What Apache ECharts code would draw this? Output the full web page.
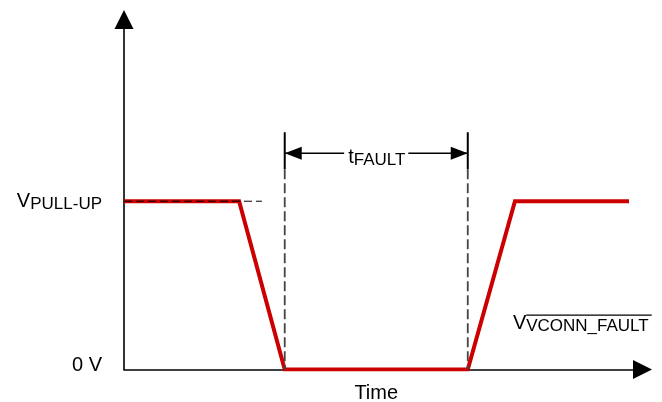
<!DOCTYPE html>
<html><head><meta charset="utf-8">
<script src="https://cdn.jsdelivr.net/npm/echarts@6/dist/echarts.min.js"></script>
<style>html,body{margin:0;padding:0;background:#fff}#c{width:662px;height:402px}</style>
</head><body><div id="c"></div>
<script>
const FONT = 'Arial, "Liberation Sans", sans-serif';
// Signal V(VCONN_FAULT) versus time (normalized units)
const signalTime  = [0, 22.2, 31.0, 66.3, 75.4, 97.4];
const signalLevel = [1, 1, 0, 0, 1, 1];
// Y tick values and their labels
const yTickValues = [0, 1];
const yTickLabels = ['0 V', 'V_PULL-UP'];
// Fault window (start, end) and its label
const faultWindow = [31.0, 66.3];
const faultLabel = ['t', 'FAULT'];
// Marker levels (data units): solid marker top / bottom, arrow level
const markerLevels = [1.41, 1.19];
const arrowLevel = [1.285];
// Dashed extension of the pull-up level (time end)
const pullUpRefEnd = [26.6];
// Signal name and its anchor (time, level)
const signalName = ['V', 'VCONN_FAULT'];
const signalNamePos = [75.0, 0.276];
const xRange = [0, 100];
const yRange = [0, 2.08];
const xName = 'Time';

const MAIN = 20, SUB = 17;
const mctx = document.createElement('canvas').getContext('2d');
function tw(t, size) { mctx.font = size + 'px ' + FONT; return mctx.measureText(t).width; }

const chart = echarts.init(document.getElementById('c'), null, {renderer: 'canvas'});

const signalData = signalTime.map((t, i) => [t, signalLevel[i]]);

const option = {
  animation: false,
  backgroundColor: '#fff',
  grid: {left: 124, right: 19.5, top: 19.5, bottom: 32.5, containLabel: false, outerBoundsMode: 'none'},
  xAxis: {
    type: 'value', min: xRange[0], max: xRange[1],
    name: xName, nameLocation: 'middle', nameGap: 14,
    nameTextStyle: {fontFamily: FONT, fontSize: MAIN, color: '#000', padding: [0, 14, 0, 0]},
    axisLine: {show: true, symbol: ['none', 'triangle'], symbolSize: [19, 19],
      lineStyle: {color: '#000', width: 1.6}},
    axisTick: {show: false}, axisLabel: {show: false}, splitLine: {show: false}
  },
  yAxis: {
    type: 'value', min: yRange[0], max: yRange[1], interval: 1,
    axisLine: {show: true, symbol: ['none', 'triangle'], symbolSize: [19, 19],
      lineStyle: {color: '#000', width: 1.6}},
    axisTick: {show: false}, splitLine: {show: false},
    axisLabel: {
      show: true, margin: 22, color: '#000', fontFamily: FONT, fontSize: MAIN,
      formatter: function (v) {
        const i = yTickValues.indexOf(v);
        if (i < 0) return '';
        const lab = yTickLabels[i];
        if (lab.indexOf('_') >= 0) {
          const p = lab.split('_');
          return '{m|' + p[0] + '}{s|' + p[1] + '}';
        }
        return '{z|' + lab + '}';
      },
      rich: {
        m: {fontFamily: FONT, fontSize: MAIN, color: '#000', lineHeight: 22},
        s: {fontFamily: FONT, fontSize: SUB, color: '#000', lineHeight: 18, padding: [7, 0, 0, 0]},
        z: {fontFamily: FONT, fontSize: MAIN, color: '#000', padding: [0, 0, 8, 0]}
      }
    }
  },
  series: [
    {
      type: 'line', data: signalData, symbol: 'none', z: 3,
      lineStyle: {color: '#cc0000', width: 4, join: 'miter'}
    },
    {
      type: 'line', data: [[0, signalLevel[0]], [pullUpRefEnd[0], signalLevel[0]]], symbol: 'none', z: 4,
      lineStyle: {color: '#000', width: 1, type: [8, 4]}
    },
    {
      type: 'custom', z: 5, data: [[faultWindow[0], arrowLevel[0]]],
      renderItem: function (params, api) {
        const xs = faultWindow.map(t => api.coord([t, 0])[0]);
        const yTop = api.coord([0, markerLevels[0]])[1];
        const yBot = api.coord([0, markerLevels[1]])[1];
        const y0 = api.coord([0, 0])[1];
        const ya = api.coord([0, arrowLevel[0]])[1];
        const ch = [];
        xs.forEach(function (x) {
          ch.push({type: 'line', shape: {x1: x, y1: yTop, x2: x, y2: yBot}, style: {stroke: '#000', lineWidth: 2}});
          ch.push({type: 'line', shape: {x1: x, y1: yBot, x2: x, y2: y0}, style: {stroke: '#444', lineWidth: 1.8, lineDash: [10, 4]}});
        });
        ch.push({type: 'line', shape: {x1: xs[0], y1: ya, x2: xs[1], y2: ya}, style: {stroke: '#000', lineWidth: 1.5}});
        const L = 17, H = 6.5;
        ch.push({type: 'polygon', shape: {points: [[xs[0], ya], [xs[0] + L, ya - H], [xs[0] + L, ya + H]]}, style: {fill: '#000'}});
        ch.push({type: 'polygon', shape: {points: [[xs[1], ya], [xs[1] - L, ya - H], [xs[1] - L, ya + H]]}, style: {fill: '#000'}});
        ch.push({type: 'text', x: (xs[0] + xs[1]) / 2, y: ya + 4, style: {
          text: '{m|' + faultLabel[0] + '}{s|' + faultLabel[1] + '}',
          align: 'center', verticalAlign: 'middle', backgroundColor: '#fff', padding: [0, 3, 0, 4],
          rich: {
            m: {fontFamily: FONT, fontSize: MAIN, fill: '#000', lineHeight: 22},
            s: {fontFamily: FONT, fontSize: SUB, fill: '#000', lineHeight: 18, padding: [6, 0, 0, 0]}
          }
        }});
        // signal name with overline on subscript
        const p = api.coord(signalNamePos);
        ch.push({type: 'text', x: p[0], y: p[1], style: {
          text: '{m|' + signalName[0] + '}{s|' + signalName[1] + '}',
          align: 'left', verticalAlign: 'middle',
          rich: {
            m: {fontFamily: FONT, fontSize: MAIN, fill: '#000', lineHeight: 22},
            s: {fontFamily: FONT, fontSize: SUB, fill: '#000', lineHeight: 18, padding: [6, 0, 0, 0]}
          }
        }});
        const ox = p[0] + tw(signalName[0], MAIN);
        ch.push({type: 'line', shape: {x1: ox, y1: p[1] - 8, x2: ox + tw(signalName[1], SUB) + 3, y2: p[1] - 8},
          style: {stroke: '#000', lineWidth: 1.2}});
        return {type: 'group', children: ch};
      }
    }
  ]
};
chart.setOption(option);
</script>
</body></html>
